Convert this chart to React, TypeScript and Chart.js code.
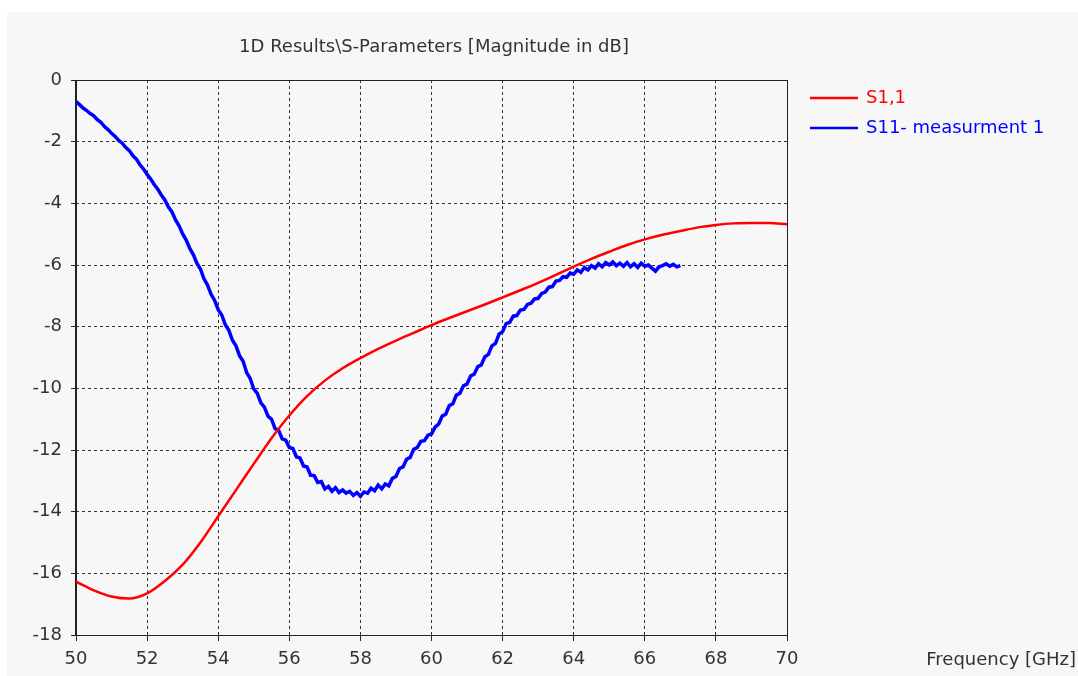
import React, { useEffect, useRef } from "react";
import { Chart, registerables } from "chart.js";

Chart.register(...registerables);

const FONT = "'DejaVu Sans', sans-serif";

const chartTitle = "1D Results\\S-Parameters [Magnitude in dB]";
const xAxisTitle = "Frequency [GHz]";
const seriesNames = ["S1,1", "S11- measurment 1"];
const seriesColors = ["#ff0000", "#0000ff"];

const xTicks = [50, 52, 54, 56, 58, 60, 62, 64, 66, 68, 70];
const yTicks = [0, -2, -4, -6, -8, -10, -12, -14, -16, -18];

// Simulated S1,1 (every 0.5 GHz)
const simFreq = [
  50.0, 50.5, 51.0, 51.5, 52.0, 52.5, 53.0, 53.5, 54.0, 54.5, 55.0, 55.5, 56.0, 56.5,
  57.0, 57.5, 58.0, 58.5, 59.0, 59.5, 60.0, 60.5, 61.0, 61.5, 62.0, 62.5, 63.0, 63.5,
  64.0, 64.5, 65.0, 65.5, 66.0, 66.5, 67.0, 67.5, 68.0, 68.5, 69.0, 69.5, 70.0,
];
const simS11 = [
  -16.27, -16.55, -16.75, -16.82, -16.65, -16.25, -15.72, -15.0, -14.15, -13.3, -12.45,
  -11.62, -10.88, -10.25, -9.75, -9.35, -9.02, -8.72, -8.45, -8.2, -7.95, -7.72, -7.5,
  -7.28, -7.05, -6.82, -6.58, -6.32, -6.05, -5.8, -5.57, -5.35, -5.17, -5.02, -4.9,
  -4.78, -4.7, -4.65, -4.64, -4.64, -4.68,
];

// Measured S11 (every 0.1 GHz, 50 .. 67 GHz)
const measStartGHz = 50.0;
const measStepGHz = 0.1;
const measS11 = [
  -0.7, -0.8, -0.91, -0.99, -1.09, -1.16, -1.29, -1.37, -1.51, -1.61,
  -1.73, -1.83, -1.96, -2.05, -2.19, -2.29, -2.46, -2.57, -2.75, -2.89,
  -3.06, -3.21, -3.39, -3.54, -3.73, -3.89, -4.12, -4.28, -4.54, -4.73,
  -4.99, -5.19, -5.46, -5.66, -5.94, -6.13, -6.45, -6.65, -6.95, -7.15,
  -7.45, -7.62, -7.94, -8.12, -8.44, -8.62, -8.94, -9.12, -9.49, -9.68,
  -10.02, -10.16, -10.47, -10.61, -10.9, -11.0, -11.31, -11.36, -11.64, -11.68,
  -11.92, -11.95, -12.22, -12.26, -12.52, -12.55, -12.82, -12.83, -13.05, -13.02,
  -13.26, -13.18, -13.34, -13.22, -13.38, -13.3, -13.4, -13.34, -13.47, -13.38,
  -13.5, -13.36, -13.4, -13.24, -13.32, -13.14, -13.26, -13.1, -13.16, -12.92,
  -12.86, -12.6, -12.55, -12.3, -12.24, -11.98, -11.92, -11.72, -11.7, -11.52,
  -11.48, -11.26, -11.16, -10.9, -10.84, -10.56, -10.5, -10.22, -10.16, -9.92,
  -9.86, -9.6, -9.54, -9.3, -9.24, -8.98, -8.9, -8.62, -8.54, -8.24,
  -8.16, -7.9, -7.86, -7.66, -7.64, -7.46, -7.44, -7.28, -7.24, -7.1,
  -7.08, -6.92, -6.88, -6.72, -6.7, -6.52, -6.5, -6.38, -6.4, -6.26,
  -6.3, -6.16, -6.24, -6.08, -6.16, -6.02, -6.1, -5.96, -6.06, -5.92,
  -6.0, -5.9, -6.02, -5.94, -6.04, -5.92, -6.06, -5.96, -6.08, -5.94,
  -6.04, -6.0, -6.1, -6.2, -6.06, -6.02, -5.96, -6.04, -5.98, -6.06,
  -6.02,
];

const overlayPlugin = {
  id: "overlay",
  beforeDraw(chart: any) {
    const ctx = chart.ctx;
    ctx.save();
    ctx.fillStyle = "#ffffff";
    ctx.fillRect(0, 0, chart.width, chart.height);
    ctx.fillStyle = "#f7f7f7";
    ctx.fillRect(7, 12, chart.width - 7, chart.height - 12);
    ctx.restore();
  },
  beforeDatasetsDraw(chart: any) {
    const { ctx, chartArea: a } = chart;
    ctx.save();
    ctx.strokeStyle = "#222";
    ctx.lineWidth = 1;
    ctx.beginPath();
    ctx.moveTo(a.left, Math.round(a.top) + 0.5);
    ctx.lineTo(a.right, Math.round(a.top) + 0.5);
    ctx.moveTo(Math.round(a.right) + 0.5, a.top);
    ctx.lineTo(Math.round(a.right) + 0.5, a.bottom);
    ctx.moveTo(a.left, Math.round(a.bottom) + 0.5);
    ctx.lineTo(a.right, Math.round(a.bottom) + 0.5);
    ctx.stroke();
    ctx.lineWidth = 2;
    ctx.beginPath();
    ctx.moveTo(Math.round(a.left), a.top);
    ctx.lineTo(Math.round(a.left), a.bottom + 1);
    ctx.stroke();
    ctx.restore();
  },
  afterDraw(chart: any) {
    const { ctx, chartArea: a } = chart;
    ctx.save();
    ctx.font = `18px ${FONT}`;
    ctx.fillStyle = "#333";
    ctx.textBaseline = "middle";
    ctx.textAlign = "center";
    ctx.fillText(chartTitle, 434, 47);
    ctx.textAlign = "right";
    ctx.fillText(xAxisTitle, 1076, 660);
    ctx.textAlign = "left";
    const legendY = [98, 128];
    seriesNames.forEach((name, i) => {
      ctx.strokeStyle = seriesColors[i];
      ctx.lineWidth = 2.5;
      ctx.beginPath();
      ctx.moveTo(810, legendY[i]);
      ctx.lineTo(858, legendY[i]);
      ctx.stroke();
      ctx.fillStyle = seriesColors[i];
      ctx.fillText(name, 866, legendY[i]);
    });
    ctx.restore();
  },
};

export default function App() {
  const canvasRef = useRef<HTMLCanvasElement | null>(null);

  useEffect(() => {
    const canvas = canvasRef.current;
    if (!canvas) return;
    const simData = simFreq.map((f, i) => ({ x: f, y: simS11[i] }));
    const measData = measS11.map((v, i) => ({
      x: +(measStartGHz + i * measStepGHz).toFixed(2),
      y: v,
    }));
    const tickFont = { family: FONT, size: 18 };
    const chart = new Chart(canvas, {
      type: "line",
      data: {
        datasets: [
          {
            label: seriesNames[0],
            data: simData,
            borderColor: seriesColors[0],
            borderWidth: 2.5,
            pointRadius: 0,
            cubicInterpolationMode: "monotone",
          },
          {
            label: seriesNames[1],
            data: measData,
            borderColor: seriesColors[1],
            borderWidth: 3.5,
            pointRadius: 0,
            tension: 0,
          },
        ],
      },
      options: {
        animation: false,
        responsive: false,
        maintainAspectRatio: false,
        layout: { padding: { left: 0, right: 291, top: 80, bottom: 0 } },
        plugins: {
          legend: { display: false },
          title: { display: false },
          tooltip: { enabled: false },
        },
        scales: {
          x: {
            type: "linear",
            min: 50,
            max: 70,
            afterBuildTicks: (s: any) => {
              s.ticks = xTicks.map((v) => ({ value: v }));
            },
            afterFit: (s: any) => {
              s.height = 41;
            },
            ticks: {
              color: "#333",
              font: tickFont,
              padding: 8,
              maxRotation: 0,
              autoSkip: false,
              callback: (v: any) => String(v),
            },
            grid: {
              color: "#333",
              lineWidth: 1,
              tickLength: 6,
              tickColor: "#222",
              tickWidth: 1,
            },
            border: { display: false, dash: [3, 3] },
          },
          y: {
            type: "linear",
            min: -18,
            max: 0,
            afterBuildTicks: (s: any) => {
              s.ticks = yTicks.map((v) => ({ value: v }));
            },
            afterFit: (s: any) => {
              s.width = 76;
            },
            ticks: {
              color: "#333",
              font: tickFont,
              padding: 9,
              autoSkip: false,
              callback: (v: any) => String(v),
            },
            grid: {
              color: "#333",
              lineWidth: 1,
              tickLength: 5,
              tickColor: "#222",
              tickWidth: 1,
            },
            border: { display: false, dash: [3, 3] },
          },
        },
      },
      plugins: [overlayPlugin],
    });
    return () => chart.destroy();
  }, []);

  return (
    <div style={{ position: "absolute", left: 0, top: 0, width: 1078, height: 676 }}>
      <canvas ref={canvasRef} width={1078} height={676} style={{ display: "block" }} />
    </div>
  );
}
